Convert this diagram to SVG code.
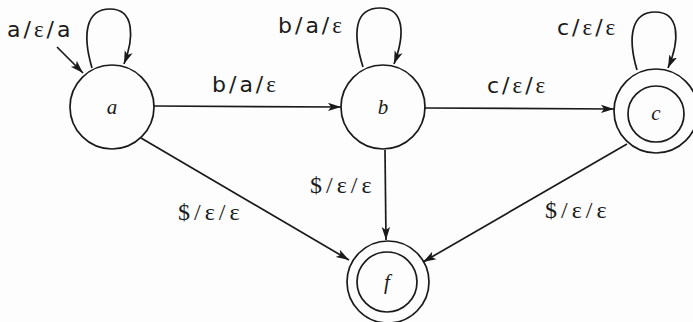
<svg xmlns="http://www.w3.org/2000/svg" width="693" height="322" viewBox="0 0 693 322">
<defs>
<marker id="arr" markerWidth="14" markerHeight="10" refX="13" refY="5" orient="auto" markerUnits="userSpaceOnUse">
<path d="M0,0.8 L13,5 L0,9.2 L3,5 Z" fill="#1a1a1a"/>
</marker>
</defs>
<style>
.st{fill:none;stroke:#1a1a1a;stroke-width:1.7}
.ed{fill:none;stroke:#1a1a1a;stroke-width:1.7;marker-end:url(#arr)}
.nl{font-family:"Liberation Serif",serif;font-style:italic;font-size:21px;fill:#1a1a1a;text-anchor:middle}
.lb{font-family:"DejaVu Sans","Liberation Sans",sans-serif;font-size:22px;letter-spacing:3px;fill:#1a1a1a}
.ep{font-family:"Liberation Serif",serif;font-size:23px}
.sl{font-family:"Liberation Serif",serif;font-size:24px;letter-spacing:4px;fill:#1a1a1a}
</style>
<rect width="693" height="322" fill="#fdfdfd"/>
<g id="connectors">
<path class="ed" d="M57,47 L83,73"/>
<path class="ed" d="M92,68 C82,34 86,9 110,9 C135,9 134,38 124,64"/>
<path class="ed" d="M363,67 C352,32 355,8 380,8 C405,8 405,35 394,64"/>
<path class="ed" d="M637,70 C627,36 632,12 655,12 C680,12 680,40 668,68"/>
<path class="ed" d="M154,106 L341,107"/>
<path class="ed" d="M424,108 L614,109"/>
<path class="ed" d="M141,138 L349,260"/>
<path class="ed" d="M385,150 L386,240"/>
<path class="ed" d="M627,144 L423,262"/>
</g>
<g id="labels">
<text class="lb" x="7" y="37">a/<tspan class="ep">ε</tspan>/a</text>
<text class="lb" x="278" y="33">b/a/<tspan class="ep">ε</tspan></text>
<text class="lb" x="557" y="35">c/<tspan class="ep">ε</tspan>/<tspan class="ep">ε</tspan></text>
<text class="lb" x="212" y="92">b/a/<tspan class="ep">ε</tspan></text>
<text class="lb" x="487" y="93">c/<tspan class="ep">ε</tspan>/<tspan class="ep">ε</tspan></text>
<text class="sl" x="178" y="220">$/ε/ε</text>
<text class="sl" x="310" y="193">$/ε/ε</text>
<text class="sl" x="545" y="218">$/ε/ε</text>
</g>
<g id="node-a">
<circle class="st" cx="112" cy="107" r="42"/>
<text class="nl" x="112" y="114">a</text>
</g>
<g id="node-b">
<circle class="st" cx="383" cy="107" r="42"/>
<text class="nl" x="383" y="114">b</text>
</g>
<g id="node-c">
<circle class="st" cx="656" cy="111" r="42"/>
<circle class="st" cx="656" cy="114" r="28"/>
<text class="nl" x="656" y="120">c</text>
</g>
<g id="node-f">
<circle class="st" cx="388" cy="282" r="41"/>
<circle class="st" cx="387" cy="282" r="30"/>
<text class="nl" x="387" y="289">f</text>
</g>
</svg>
